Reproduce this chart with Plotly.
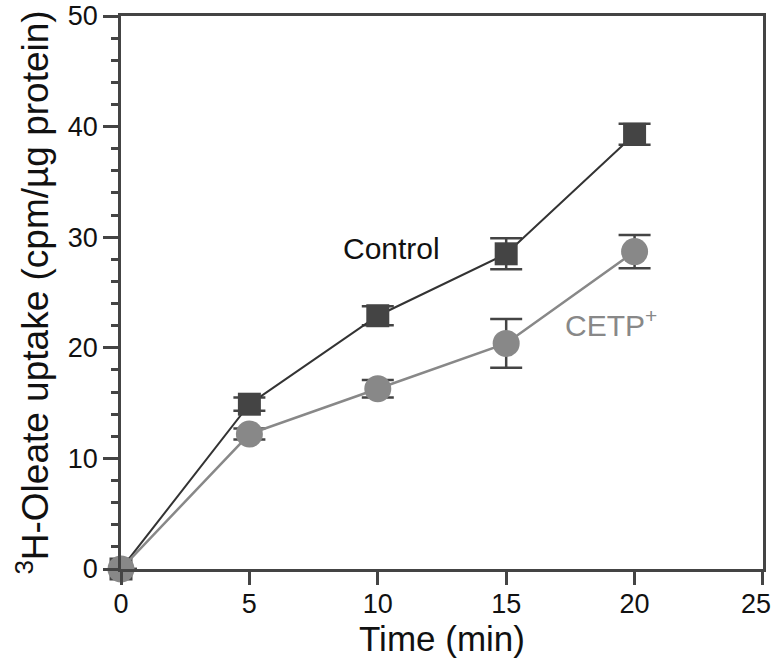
import plotly.graph_objects as go

time = [0, 5, 10, 15, 20]
control = [0, 14.9, 22.9, 28.5, 39.3]
control_err = [0, 0.6, 0.85, 1.4, 0.95]
cetp = [0, 12.2, 16.3, 20.4, 28.7]
cetp_err = [0, 0.5, 0.8, 2.2, 1.5]
x_ticks = [0, 5, 10, 15, 20, 25]
x_labels = ["0", "5", "10", "15", "20", ""]
y_ticks = [0, 10, 20, 30, 40, 50]

fig = go.Figure()
fig.add_trace(go.Scatter(
    x=time, y=control, mode="lines+markers", name="Control",
    line=dict(color="#333333", width=2),
    marker=dict(symbol="square", size=23, color="#444444"),
    error_y=dict(type="data", array=control_err, visible=True,
                 color="#444444", thickness=2.5, width=16),
    cliponaxis=False,
))
fig.add_trace(go.Scatter(
    x=time, y=cetp, mode="lines+markers", name="CETP+",
    line=dict(color="#888888", width=2.5),
    marker=dict(symbol="circle", size=27, color="#888888"),
    error_y=dict(type="data", array=cetp_err, visible=True,
                 color="#444444", thickness=2.5, width=16),
    cliponaxis=False,
))

fig.add_annotation(x=10.55, y=29.0, text="Control", showarrow=False,
                   font=dict(size=30, color="#111111", family="Liberation Sans, Arial"))
fig.add_annotation(x=19.1, y=22.2, text="CETP<sup>+</sup>", showarrow=False,
                   font=dict(size=30, color="#888888", family="Liberation Sans, Arial"))
# last x tick label, nudged left so it stays inside the page (as in the reference)
fig.add_annotation(x=x_ticks[-1], xref="x", y=0, yref="paper", text=str(x_ticks[-1]),
                   showarrow=False, xanchor="center", yanchor="middle", xshift=-7, yshift=-35,
                   font=dict(size=27, color="#111111", family="Liberation Sans, Arial"))

axis_common = dict(showgrid=False, zeroline=False, showline=True, linecolor="#444444",
                   linewidth=2.5, mirror=True, ticks="outside", tickcolor="#444444",
                   tickwidth=2.5, tickfont=dict(size=27, color="#111111"), automargin=False,
                   ticklabeloverflow="allow")

fig.update_xaxes(range=[0, 25.001], tickvals=x_ticks, ticktext=x_labels, ticklen=13,
                 ticklabelstandoff=-4,
                 title=dict(text="Time (min)", font=dict(size=35, color="#111111"), standoff=4),
                 **axis_common)
fig.update_yaxes(range=[0, 50.001], tickvals=y_ticks, ticklen=15,
                 minor=dict(dtick=2, ticklen=7, ticks="outside", tickcolor="#444444", tickwidth=2.5),
                 title=dict(text="<sup>3</sup>H-Oleate uptake (cpm/µg protein)",
                            font=dict(size=37, color="#111111"), standoff=8),
                 **axis_common)

fig.update_layout(
    width=774, height=666, showlegend=False,
    plot_bgcolor="white", paper_bgcolor="white",
    margin=dict(l=121, r=11, t=16, b=97, autoexpand=False),
    font=dict(family="Liberation Sans, Arial", color="#111111"),
)

fig.write_html("out.html", config={"displayModeBar": False},
               post_script="document.body.style.margin='0';")
